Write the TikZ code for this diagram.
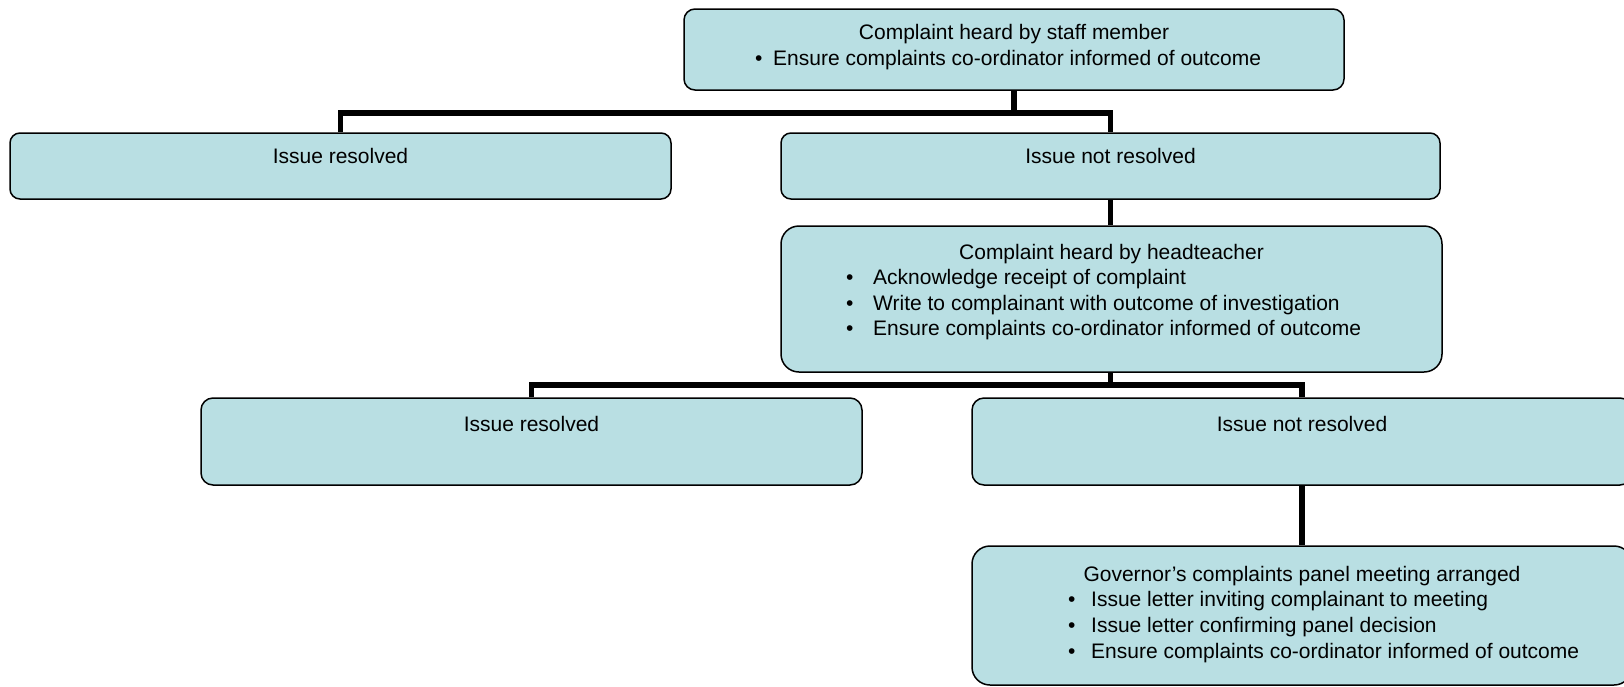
\documentclass[tikz,border=0pt]{standalone}
\usepackage{fontspec}
\setmainfont{Liberation Sans}
\definecolor{boxfill}{RGB}{185,223,227}
\begin{document}
\begin{tikzpicture}[x=1pt,y=-1pt,
  box/.style={draw=black, line width=1.5pt, fill=boxfill, inner sep=0pt, rectangle},
  conn/.style={line width=5.5pt, line join=miter},
  lbl/.style={inner sep=0pt, anchor=base, font=\fontsize{21}{25.5}\selectfont},
  item/.style={inner sep=0pt, anchor=base west, font=\fontsize{21}{25.5}\selectfont}]
\useasboundingbox[fill=white] (0,0) rectangle (1624,686);

% boxes
\node[box, rounded corners=11pt, minimum width=660pt, minimum height=81pt] (top) at (1014,49.5) {};
\node[box, rounded corners=10pt, minimum width=661pt, minimum height=66pt] (res1) at (340.5,166) {};
\node[box, rounded corners=10pt, minimum width=659pt, minimum height=66pt] (nres1) at (1110.5,166) {};
\node[box, rounded corners=18pt, minimum width=661pt, minimum height=146pt] (head) at (1111.5,299) {};
\node[box, rounded corners=12pt, minimum width=661pt, minimum height=87pt] (res2) at (531.5,441.5) {};
\node[box, rounded corners=12pt, minimum width=660pt, minimum height=87pt] (nres2) at (1302,441.5) {};
\node[box, rounded corners=18pt, minimum width=660pt, minimum height=139pt] (gov) at (1302,615.5) {};

% connectors
\coordinate (j1) at (1014,113);
\coordinate (j2) at (1110.5,385);
\draw[conn] (top.south) -- (j1);
\draw[conn] (res1.north) -- (res1.north |- j1) -- (nres1.north |- j1) -- (nres1.north);
\draw[conn] (nres1.south) -- (nres1.south |- head.north);
\draw[conn] (head.south -| j2) -- (j2);
\draw[conn] (res2.north) -- (res2.north |- j2) -- (nres2.north |- j2) -- (nres2.north);
\draw[conn] (nres2.south) -- (gov.north);

% texts
\node[lbl] (t0) at (1014,39) {Complaint heard by staff member};
\node[item] (t1) at (755,65) {\makebox[18pt][l]{•}Ensure complaints co-ordinator informed of outcome};

\node[lbl] (r1) at (340.5,163) {Issue resolved};
\node[lbl] (n1) at (1110.5,163) {Issue not resolved};

\node[lbl] (h0) at (1111.5,259) {Complaint heard by headteacher};
\node[item] (h1) at (846,284) {\makebox[27pt][l]{•}Acknowledge receipt of complaint};
\node[item] (h2) at (846,310) {\makebox[27pt][l]{•}Write to complainant with outcome of investigation};
\node[item] (h3) at (846,335) {\makebox[27pt][l]{•}Ensure complaints co-ordinator informed of outcome};

\node[lbl] (r2) at (531.5,431) {Issue resolved};
\node[lbl] (n2) at (1302,431) {Issue not resolved};

\node[lbl] (g0) at (1302,581) {Governor’s complaints panel meeting arranged};
\node[item] (g1) at (1068,606) {\makebox[23pt][l]{•}Issue letter inviting complainant to meeting};
\node[item] (g2) at (1068,632) {\makebox[23pt][l]{•}Issue letter confirming panel decision};
\node[item] (g3) at (1068,658) {\makebox[23pt][l]{•}Ensure complaints co-ordinator informed of outcome};
\end{tikzpicture}
\end{document}
